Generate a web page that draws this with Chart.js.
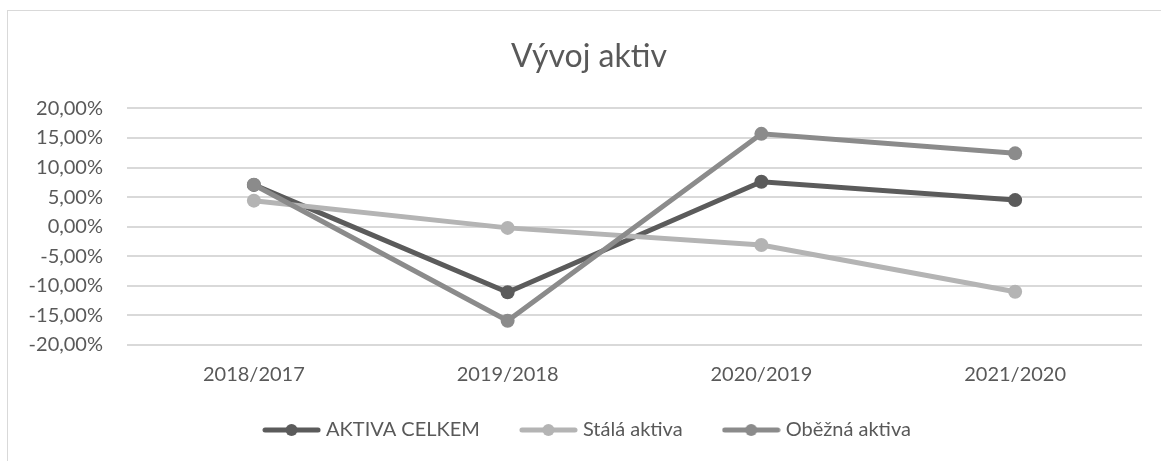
<!DOCTYPE html>
<html>
<head>
<meta charset="utf-8">
<script src="https://cdn.jsdelivr.net/npm/chart.js@4"></script>
<style>
  html, body { margin: 0; padding: 0; background: #fff; overflow: hidden; }
  #frame { position: absolute; left: 7px; top: 10px; width: 1180px; height: 480px; border: 1px solid #d9d9d9; box-sizing: border-box; }
  #wrap { position: absolute; left: 0; top: 0; width: 1161px; height: 461px; }
</style>
</head>
<body>
<div id="frame"></div>
<div id="wrap"><canvas id="aktivaChart" width="1161" height="461"></canvas></div>
<script>
const categories = ["2018/2017", "2019/2018", "2020/2019", "2021/2020"];
const aktivaCelkem = [7.07, -11.1, 7.6, 4.5];
const stalaAktiva = [4.4, -0.2, -3.1, -11.0];
const obeznaAktiva = [7.1, -15.9, 15.7, 12.4];
const seriesNames = ["AKTIVA CELKEM", "Stálá aktiva", "Oběžná aktiva"];
const seriesColors = ["#5b5b5b", "#b4b4b4", "#8b8b8b"];

const FONT = "Lato, 'Open Sans', sans-serif";
const TEXT = "#595959";

// legend marker: short line with a dot in the middle
function makeMarker(color) {
  const c = document.createElement("canvas");
  c.width = 59;
  c.height = 14;
  const ctx = c.getContext("2d");
  ctx.strokeStyle = color;
  ctx.lineWidth = 5;
  ctx.lineCap = "round";
  ctx.beginPath();
  ctx.moveTo(3, 7);
  ctx.lineTo(56, 7);
  ctx.stroke();
  ctx.fillStyle = color;
  ctx.beginPath();
  ctx.arc(29.5, 7, 6, 0, Math.PI * 2);
  ctx.fill();
  return c;
}

function fmtPct(v) {
  return v.toFixed(2).replace(".", ",") + "%";
}

// tick labels stick out of the forced axis boxes, so widen the clip area
const unclipLabels = {
  id: "unclipLabels",
  afterLayout(chart) {
    chart.scales.y.left = 0;
    chart.scales.x.bottom = chart.height;
  },
};

const values = [aktivaCelkem, stalaAktiva, obeznaAktiva];
const datasets = seriesNames.map((name, i) => ({
  label: name,
  data: values[i],
  borderColor: seriesColors[i],
  backgroundColor: seriesColors[i],
  borderWidth: 5,
  pointRadius: 7,
  pointHoverRadius: 7,
  pointBorderWidth: 0,
  pointStyle: "circle",
  legendMarker: makeMarker(seriesColors[i]),
  order: 3 - i,
  tension: 0,
}));

const ctx = document.getElementById("aktivaChart").getContext("2d");
new Chart(ctx, {
  type: "line",
  data: { labels: categories, datasets: datasets },
  plugins: [unclipLabels],
  options: {
    responsive: false,
    animation: false,
    layout: { padding: { left: 36, right: 19, top: 0, bottom: 11 } },
    plugins: {
      title: {
        display: true,
        text: "Vývoj aktiv",
        color: TEXT,
        font: { family: FONT, size: 32, weight: "normal" },
        padding: { top: 37, bottom: 33 },
      },
      legend: {
        position: "bottom",
        labels: {
          color: TEXT,
          font: { family: FONT, size: 20 },
          usePointStyle: true,
          pointStyleWidth: 49,
          padding: 44,
          generateLabels: (chart) =>
            chart.data.datasets.map((d, i) => ({
              text: d.label,
              fillStyle: d.borderColor,
              strokeStyle: d.borderColor,
              fontColor: TEXT,
              lineWidth: 0,
              pointStyle: d.legendMarker,
              datasetIndex: i,
              hidden: false,
            })),
        },
      },
      tooltip: { enabled: false },
    },
    scales: {
      x: {
        offset: true,
        grid: { display: false, drawTicks: false },
        border: { display: false },
        ticks: {
          color: TEXT,
          font: { family: FONT, size: 20 },
          padding: 18,
        },
        afterFit: (scale) => {
          scale.height = 31;
        },
      },
      y: {
        min: -20,
        max: 20,
        grid: { color: "#d9d9d9", lineWidth: 2, drawTicks: false },
        border: { display: false },
        ticks: {
          stepSize: 5,
          color: TEXT,
          font: { family: FONT, size: 20 },
          padding: 24,
          callback: (v) => fmtPct(v),
        },
        afterFit: (scale) => {
          scale.width = 91;
        },
      },
    },
  },
});
</script>
</body>
</html>
